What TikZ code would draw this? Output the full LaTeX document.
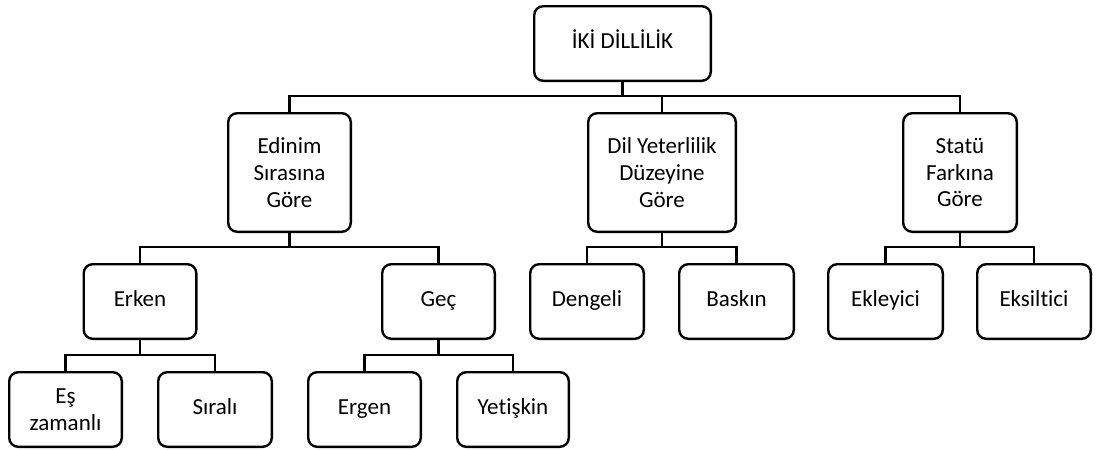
\documentclass[tikz,border=0pt]{standalone}
\usepackage{fontspec}
\setmainfont{Carlito}[Ligatures=NoCommon]
\usepackage{tikz}

\begin{document}
\begin{tikzpicture}[x=1pt, y=-1pt, line width=2.4pt,
    box/.style={draw, rounded corners=9pt, align=center, inner sep=0pt,
                font=\fontsize{23}{26.7}\selectfont},
    leaf/.style={box, text height=14.5pt, text depth=5pt}]
  \useasboundingbox (0,0) rectangle (1096,450);
  % First we draw the boxes, level by level
  \foreach \pos/\name/\w/\txt in {{(622.5,43.5)/root/176.6/{İKİ DİLLİLİK}},
      {(140,301.5)/erken/112.6/Erken}, {(438.5,301.5)/gec/112.6/Geç},
      {(587,301.5)/dengeli/113.6/Dengeli}, {(736.5,301.5)/baskin/114.6/Baskın},
      {(885.5,301.5)/ekleyici/114.6/Ekleyici}, {(1034,301.5)/eksiltici/113.6/Eksiltici},
      {(215,409.5)/sirali/113.6/Sıralı},
      {(364.5,409.5)/ergen/112.6/Ergen}, {(513,409.5)/yetiskin/111.6/Yetişkin}}
    \node[leaf, minimum width=\w pt, minimum height=74.6pt] (\name) at \pos {\txt};
  \foreach \pos/\name/\w/\h/\txt in {{(289.5,172.5)/edinim/122.6/118.6/{Edinim\\Sırasına\\Göre}},
      {(662,172.5)/dil/147.6/118.6/{Dil Yeterlilik\\Düzeyine\\Göre}},
      {(960,172.5)/statu/113.6/118.6/{Statü\\Farkına\\Göre}},
      {(65.5,409.5)/es/112.6/74.6/{Eş\\zamanlı}}}
    \node[box, minimum width=\w pt, minimum height=\h pt] (\name) at \pos {\txt};
  % Then the elbow connectors from each parent to its children
  \foreach \source/\dest in {root/edinim, root/dil, root/statu, edinim/erken, edinim/gec,
      dil/dengeli, dil/baskin, statu/ekleyici, statu/eksiltici,
      erken/es, erken/sirali, gec/ergen, gec/yetiskin}
    \path[draw] (\source.south) |- ([yshift=16pt]\dest.north) -- (\dest.north);
\end{tikzpicture}
\end{document}
